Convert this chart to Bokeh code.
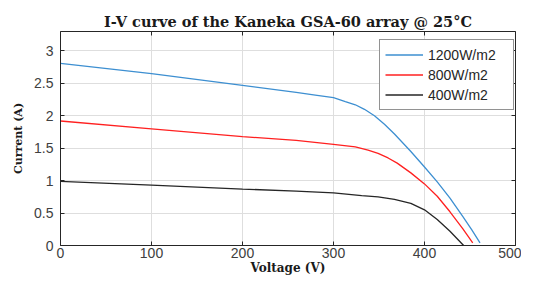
from bokeh.plotting import figure
from bokeh.models import LinearAxis, Range1d, Legend, LegendItem, FixedTicker
from bokeh.embed import file_html
from bokeh.resources import INLINE

# ---- data ----
v_1200 = [0, 100, 200, 259, 280, 300, 313, 324, 334, 345, 356, 367, 385, 400, 414, 428, 442, 452, 461]
i_1200 = [2.81, 2.65, 2.47, 2.36, 2.32, 2.28, 2.22, 2.17, 2.10, 2.00, 1.87, 1.72, 1.45, 1.21, 0.98, 0.73, 0.45, 0.24, 0.04]

v_800 = [0, 100, 200, 259, 300, 324, 338, 349, 360, 370, 385, 400, 414, 428, 442, 453]
i_800 = [1.92, 1.80, 1.68, 1.62, 1.56, 1.52, 1.47, 1.42, 1.35, 1.27, 1.12, 0.95, 0.76, 0.52, 0.26, 0.04]

v_400 = [0, 100, 200, 259, 300, 331, 349, 367, 385, 400, 414, 428, 443]
i_400 = [0.99, 0.93, 0.87, 0.84, 0.81, 0.77, 0.75, 0.71, 0.65, 0.55, 0.40, 0.22, 0.0]

series_names = ["1200W/m2", "800W/m2", "400W/m2"]
series_colors = ["#3d8fd1", "#ff2020", "#262626"]

x_ticks = [0, 100, 200, 300, 400, 500]
y_ticks = [0, 0.5, 1, 1.5, 2, 2.5, 3]
y_tick_labels = ["0", "0.5", "1", "1.5", "2", "2.5", "3"]

title_text = "I-V curve of the Kaneka GSA-60 array @ 25\u00b0C"
x_label = "Voltage (V)"
y_label = "Current (A)"

# ---- figure ----
AX = "#262626"
TICK_FONT = "Liberation Sans"

p = figure(width=521, height=277, x_range=Range1d(0, 500), y_range=Range1d(0, 3.3),
           output_backend="svg", toolbar_location=None,
           min_border_left=60, min_border_right=6, min_border_top=31, min_border_bottom=28)

p.title.text = title_text
p.title.align = "center"
p.title.text_font = "DejaVu Serif"
p.title.text_font_style = "bold"
p.title.text_font_size = "14.5px"
p.title.text_color = "#1a1a1a"
p.title.standoff = 4

p.outline_line_color = None
p.background_fill_color = "white"
p.border_fill_color = "white"

xt = FixedTicker(ticks=x_ticks)
yt = FixedTicker(ticks=y_ticks)

for ax in p.xaxis:
    ax.ticker = xt
for ax in p.yaxis:
    ax.ticker = yt
    ax.major_label_overrides = {t: l for t, l in zip(y_ticks, y_tick_labels)}

for ax in list(p.xaxis) + list(p.yaxis):
    ax.axis_line_color = AX
    ax.major_tick_line_color = AX
    ax.major_tick_in = 4
    ax.major_tick_out = 0
    ax.minor_tick_line_color = None
    ax.major_label_text_font = TICK_FONT
    ax.major_label_text_font_size = "14px"
    ax.major_label_text_color = "#404040"
    ax.axis_label_text_font = "DejaVu Serif"
    ax.axis_label_text_font_style = "bold"
    ax.axis_label_text_color = "#1a1a1a"

p.xaxis.axis_label = x_label
p.xaxis.axis_label_text_font_size = "12px"
p.xaxis.major_label_standoff = 2
p.xaxis.axis_label_standoff = 0
p.yaxis.axis_label = y_label
p.yaxis.axis_label_text_font_size = "11px"
p.yaxis.major_label_standoff = 7
p.yaxis.axis_label_standoff = 6

# mirror axes (ticks on top and right, no labels)
top = LinearAxis(ticker=xt, major_label_text_color=None, major_label_standoff=0,
                 major_tick_in=4, major_tick_out=0, minor_tick_line_color=None,
                 axis_line_color=AX, major_tick_line_color=AX)
right = LinearAxis(ticker=yt, major_label_text_color=None, major_label_standoff=0,
                   major_tick_in=4, major_tick_out=0, minor_tick_line_color=None,
                   axis_line_color=AX, major_tick_line_color=AX)
p.add_layout(top, "above")
p.add_layout(right, "right")

p.xgrid.ticker = xt
p.ygrid.ticker = yt
p.grid.grid_line_color = "#dedede"
p.grid.grid_line_width = 1

r1 = p.line(v_1200, i_1200, line_color=series_colors[0], line_width=1.3)
r2 = p.line(v_800, i_800, line_color=series_colors[1], line_width=1.3)
r3 = p.line(v_400, i_400, line_color=series_colors[2], line_width=1.3)

legend = Legend(items=[LegendItem(label=series_names[0], renderers=[r1]),
                       LegendItem(label=series_names[1], renderers=[r2]),
                       LegendItem(label=series_names[2], renderers=[r3])],
                location=(319, 135))
legend.label_text_font = TICK_FONT
legend.label_text_font_size = "14px"
legend.label_text_color = "#262626"
legend.glyph_width = 38
legend.glyph_height = 19
legend.label_height = 19
legend.label_width = 80
legend.label_standoff = 5
legend.spacing = 1
legend.padding = 5
legend.margin = 0
legend.border_line_color = AX
legend.border_line_width = 1
legend.background_fill_color = "white"
legend.background_fill_alpha = 1
p.add_layout(legend, "center")

open("out.html", "w").write(file_html(p, INLINE))
